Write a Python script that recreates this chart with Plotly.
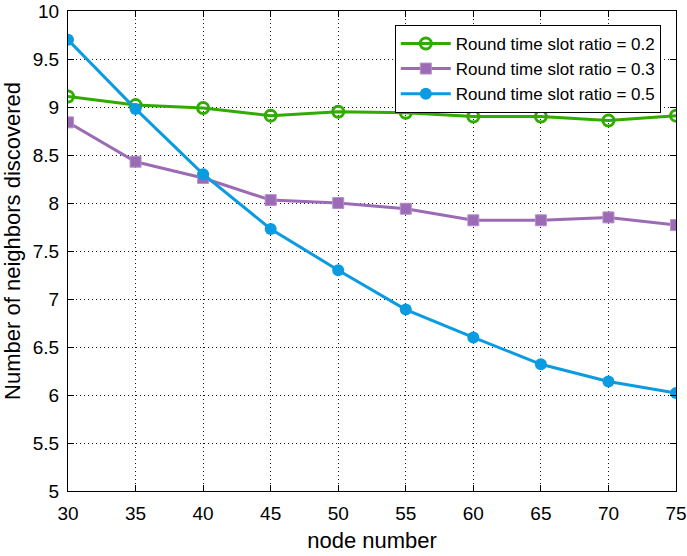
import plotly.graph_objects as go

nodes = [30, 35, 40, 45, 50, 55, 60, 65, 70, 75]
ratio_02 = [9.11, 9.02, 8.99, 8.91, 8.95, 8.94, 8.90, 8.90, 8.86, 8.91]
ratio_03 = [8.84, 8.43, 8.26, 8.03, 8.00, 7.94, 7.82, 7.82, 7.85, 7.77]
ratio_05 = [9.70, 8.98, 8.30, 7.73, 7.30, 6.89, 6.60, 6.32, 6.14, 6.02]
names = ["Round time slot ratio = 0.2", "Round time slot ratio = 0.3", "Round time slot ratio = 0.5"]
y_ticks = [5, 5.5, 6, 6.5, 7, 7.5, 8, 8.5, 9, 9.5, 10]
y_tick_labels = ["5", "5.5", "6", "6.5", "7", "7.5", "8", "8.5", "9", "9.5", "10"]
x_ticks = [30, 35, 40, 45, 50, 55, 60, 65, 70, 75]
x_title = "node number"
y_title = "Number of neighbors discovered"

green = "#30AC00"
purple = "#9B6BB5"
blue = "#0A9BE0"
FONT = "Liberation Sans, Arial"

fig = go.Figure()
fig.add_trace(go.Scatter(x=nodes, y=ratio_02, name=names[0], mode="lines+markers",
                         line=dict(color=green, width=3),
                         marker=dict(symbol="circle-open", size=11, color=green, line=dict(width=3, color=green))))
fig.add_trace(go.Scatter(x=nodes, y=ratio_03, name=names[1], mode="lines+markers",
                         line=dict(color=purple, width=3),
                         marker=dict(symbol="square", size=11, color=purple,
                                     line=dict(width=1, color="#B592CC"))))
fig.add_trace(go.Scatter(x=nodes, y=ratio_05, name=names[2], mode="lines+markers",
                         line=dict(color=blue, width=3),
                         marker=dict(symbol="circle", size=12, color=blue)))

axis_common = dict(showline=True, linecolor="black", linewidth=1, mirror="ticks",
                   ticks="inside", ticklen=6, tickcolor="black",
                   showgrid=True, gridcolor="rgba(0,0,0,0.9)", gridwidth=1, griddash="1px,3px",
                   zeroline=False, automargin=False,
                   tickfont=dict(family=FONT, size=19, color="black"))

fig.update_xaxes(range=[30, 75], tickvals=x_ticks, ticklabelstandoff=5,
                 title=dict(text=x_title, font=dict(family=FONT, size=22, color="black"), standoff=9),
                 **axis_common)
fig.update_yaxes(range=[5, 10], tickvals=y_ticks, ticktext=y_tick_labels, ticklabelstandoff=4,
                 **axis_common)

fig.add_annotation(text=y_title, xref="paper", yref="paper", x=-0.0905, y=0.521,
                   xanchor="center", yanchor="middle", textangle=-90, showarrow=False,
                   font=dict(family=FONT, size=22, color="black"))

fig.update_layout(
    width=687, height=556,
    margin=dict(l=68, r=11, t=11, b=65),
    plot_bgcolor="white", paper_bgcolor="white",
    font=dict(family=FONT, color="black"),
    legend=dict(x=0.975, y=0.971, xanchor="right", yanchor="top",
                bgcolor="white", bordercolor="black", borderwidth=1,
                font=dict(family=FONT, size=17, color="black"), tracegroupgap=0, itemwidth=50),
    showlegend=True,
)

fig.write_html("out.html", config={"displayModeBar": False},
               post_script="document.body.style.margin='0';")
